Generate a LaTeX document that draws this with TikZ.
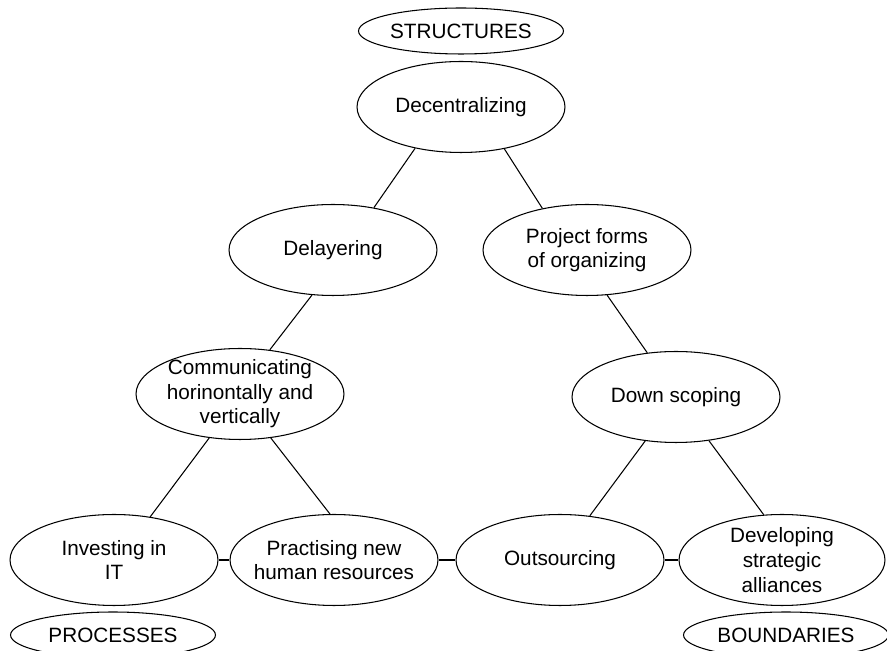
\documentclass[tikz,border=0pt]{standalone}
\usepackage{fontspec}
\setmainfont{Liberation Sans}
\usepackage{tikz}
\usetikzlibrary{shapes.geometric}
\tikzset{
  oval/.style={draw, ellipse, line width=0.6pt, inner sep=-0.4cm,
    minimum width=4.16cm, minimum height=1.82cm, align=center,
    font=\fontsize{11.8}{14}\selectfont},
  tag/.style={oval, minimum width=4.1cm, minimum height=0.92cm},
  link/.style={line width=0.6pt}
}

\begin{document}
\begin{tikzpicture}[x=0.02cm, y=-0.02cm]
    \useasboundingbox (0, 0) rectangle (887, 651);
    \node[tag] (str) at (461, 31) {STRUCTURES};
    \node[oval] (dec) at (461, 107) {Decentralizing};
    \node[oval] (del) at (333, 250) {Delayering};
    \node[oval] (prj) at (587, 250) {Project forms\\of organizing};
    \node[oval] (com) at (240, 394) {Communicating\\horinontally and\\vertically};
    \node[oval] (dsc) at (676, 397) {Down scoping};
    \node[oval] (inv) at (114, 560) {Investing in\\IT};
    \node[oval] (prc) at (334, 560) {Practising new\\human resources};
    \node[oval] (out) at (560, 560) {Outsourcing};
    \node[oval, minimum width=4.12cm] (dev) at (782, 560) {Developing\\strategic\\alliances};
    \node[tag] (pro) at (113, 635) {PROCESSES};
    \node[tag] (bnd) at (786, 635) {BOUNDARIES};
    \draw[link] (dec.222) -- (del.46);
    \draw[link] (dec.316) -- (prj.137);
    \draw[link] (del.245) -- (com.56);
    \draw[link] (prj.294) -- (dsc.123);
    \draw[link] (com.235) -- (inv.50);
    \draw[link] (com.305) -- (prc.95);
    \draw[link] (dsc.235) -- (out.56);
    \draw[link] (dsc.307) -- (dev.112);
    \draw[link] (inv.east) -- (prc.west)
                (prc.east) -- (out.west)
                (out.east) -- (dev.west);
\end{tikzpicture}
\end{document}
